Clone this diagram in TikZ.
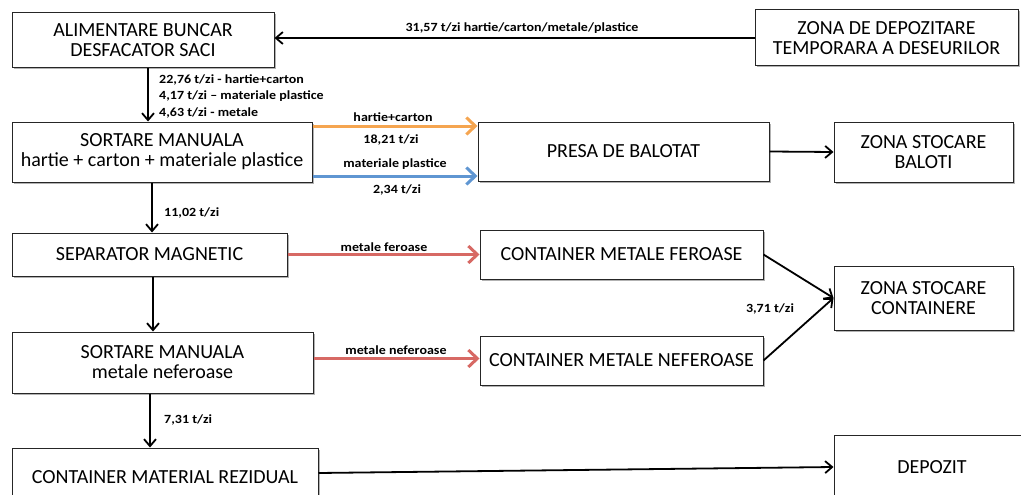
\documentclass[tikz,border=0pt]{standalone}
\usepackage{fontspec}
\setmainfont{Carlito}
\newfontfamily\lblfont[FakeStretch=1.12]{Carlito}
\usetikzlibrary{arrows.meta,shadows}
\definecolor{flowOrange}{RGB}{245,165,80}
\definecolor{flowBlue}{RGB}{95,150,210}
\definecolor{flowRed}{RGB}{215,105,100}
\tikzset{
  box/.style={draw=black!85, line width=1pt, fill=white, align=center,
    inner sep=2pt, font=\fontsize{20}{20}\selectfont,
    drop shadow={shadow xshift=1.5pt, shadow yshift=-1.5pt, opacity=.3, fill=black}},
  arr/.style={-{Straight Barb[length=7pt,width=12pt,line width=1.8pt]}, line width=1.8pt, black},
  carr/.style={-{Straight Barb[length=9pt,width=17pt,line width=3pt]}, line width=3pt},
  lbl/.style={font=\lblfont\fontsize{12.5}{13}\selectfont\bfseries, inner sep=0pt},
}
\begin{document}
\begin{tikzpicture}[x=1pt,y=-1pt]
\useasboundingbox (0,0) rectangle (1021,495);
\clip (0,0) rectangle (1021,495);

% process boxes
\node[box, minimum width=262pt, minimum height=55pt] (buncar) at (143,40.5) {ALIMENTARE BUNCAR\\DESFACATOR SACI};
\node[box, minimum width=263pt, minimum height=56pt] (depozitare) at (886.5,38) {ZONA DE DEPOZITARE\\TEMPORARA A DESEURILOR};
\node[box, minimum width=300pt, minimum height=60pt] (sortare1) at (162,152) {SORTARE MANUALA\\hartie + carton + materiale plastice};
\node[box, minimum width=291pt, minimum height=59pt] (presa) at (623.5,151.5) {PRESA DE BALOTAT};
\node[box, minimum width=179pt, minimum height=60pt] (baloti) at (923.5,152) {ZONA STOCARE\\BALOTI};
\node[box, minimum width=275pt, minimum height=43pt] (separator) at (149.5,254.5) {SEPARATOR MAGNETIC};
\node[box, minimum width=283pt, minimum height=49pt] (feroase) at (621.5,254.5) {CONTAINER METALE FEROASE};
\node[box, minimum width=179pt, minimum height=64pt] (containere) at (923.5,298) {ZONA STOCARE\\CONTAINERE};
\node[box, minimum width=301pt, minimum height=61pt] (sortare2) at (162.5,362.5) {SORTARE MANUALA\\metale neferoase};
\node[box, minimum width=283pt, minimum height=49pt] (neferoase) at (621.5,360.5) {CONTAINER METALE NEFEROASE};
\node[box, minimum width=306pt, minimum height=58pt] (rezidual) at (165,477) {CONTAINER MATERIAL REZIDUAL};
\node[box, minimum width=196pt, minimum height=64pt] (depozit) at (932,467) {DEPOZIT};

% black flows
\draw[arr] (depozitare.west) -- (depozitare.west -| buncar.east);
\draw[arr] ([xshift=5pt]buncar.south) -- ([xshift=5pt]buncar.south |- sortare1.north);
\draw[arr] ([xshift=-10pt]sortare1.south) -- ([xshift=-10pt]sortare1.south |- separator.north);
\draw[arr] ([xshift=3.5pt]separator.south) -- ([xshift=3.5pt]separator.south |- sortare2.north);
\draw[arr] ([xshift=-12.5pt]sortare2.south) -- ([xshift=-12.5pt]sortare2.south |- rezidual.north);
\draw[arr] (presa.east) -- (baloti.west);
\draw[arr] (feroase.east) -- (containere.west);
\draw[arr] (neferoase.east) -- (containere.west);
\draw[arr] ([yshift=4pt]rezidual.east) -- (depozit.west);

% coloured flows
\draw[carr, flowOrange] ([yshift=26pt]sortare1.east) -- ([yshift=26pt]sortare1.east -| presa.west);
\draw[carr, flowBlue] ([yshift=-24pt]sortare1.east) -- ([yshift=-24pt]sortare1.east -| presa.west);
\draw[carr, flowRed] (separator.east) -- (feroase.west);
\draw[carr, flowRed] ([yshift=4pt]sortare2.east) -- ([yshift=4pt]sortare2.east -| neferoase.west);

% flow labels
\node[lbl] (l1) at (522,28) {31,57 t/zi hartie/carton/metale/plastice};
\node[lbl, anchor=west] (l2) at (159,80) {22,76 t/zi - hartie+carton};
\node[lbl, anchor=west] (l3) at (159,96.5) {4,17 t/zi – materiale plastice};
\node[lbl, anchor=west] (l4) at (159,112.5) {4,63 t/zi - metale};
\node[lbl] (l5) at (393,117) {hartie+carton};
\node[lbl] (l6) at (391,140) {18,21 t/zi};
\node[lbl] (l7) at (395,164) {materiale plastice};
\node[lbl] (l8) at (397,190) {2,34 t/zi};
\node[lbl, anchor=west] (l9) at (164,213) {11,02 t/zi};
\node[lbl] (l10) at (384,247) {metale feroase};
\node[lbl] (l11) at (396,350) {metale neferoase};
\node[lbl] (l12) at (770,309) {3,71 t/zi};
\node[lbl, anchor=west] (l13) at (164,420) {7,31 t/zi};
\end{tikzpicture}
\end{document}
